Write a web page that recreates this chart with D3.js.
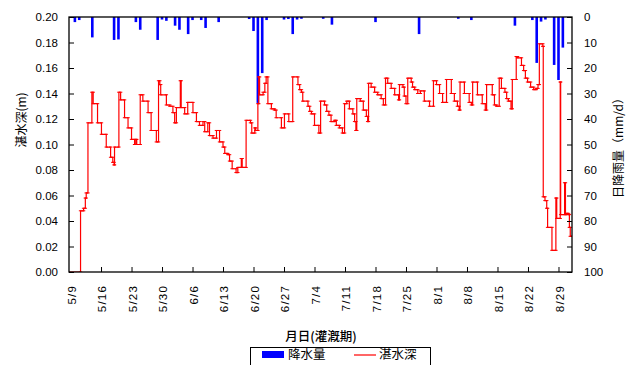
<!DOCTYPE html>
<html><head><meta charset="utf-8">
<script src="https://cdn.jsdelivr.net/npm/d3@7"></script>
<style>
body{margin:0;background:#fff;}
svg text{font-family:"Liberation Sans",Arial,"Noto Sans CJK JP",sans-serif;fill:#000;}
.cjk{font-family:"Noto Sans CJK JP","Liberation Sans",sans-serif;}
</style></head><body>
<svg id="c" width="640" height="365"></svg>
<script>
// ---- data (day index: 0 = 5/9) ----
const tickLabels = ["5/9","5/16","5/23","5/30","6/6","6/13","6/20","6/27","7/4","7/11","7/18","7/25","8/1","8/8","8/15","8/22","8/29"];
const tickDays   = [0,7,14,21,28,35,42,49,56,63,70,77,84,91,98,105,112];
const depthTicks = [0,0.02,0.04,0.06,0.08,0.10,0.12,0.14,0.16,0.18,0.20];
const rainTicks  = [0,10,20,30,40,50,60,70,80,90,100];

const rainDay = [1,2,5,10,11,15,16,20,21,22,24,25,27,28,30,31,34,41,42,43,44,45,49,50,51,52,53,58,60,70,80,89,92,102,106,107,108,109,111,112,113];
const rainMm  = [2,1.2,8,9,8.8,2,5,9,1,1.5,3.4,5,6.7,1.2,1.2,4.3,2,0.8,5.5,33.7,22,1.2,1,0.8,6.7,1,0.7,0.7,3,2,6.7,0.7,1.2,3.4,1.2,18,1.8,1,18.8,24.7,12];

const depthDay = [-0.35,2.3,3.0,3.4,3.6,4.0,4.9,5.2,6.2,7.1,8.2,9.2,9.7,10.0,10.1,11.1,11.5,12.4,13.2,14.0,14.7,15.0,15.2,16.0,16.6,17.8,18.5,19.7,20.2,20.5,20.7,22.0,22.8,23.5,23.9,24.3,25.2,25.4,26.2,26.9,28.1,28.9,29.6,30.4,30.8,31.5,31.9,32.7,33.5,34.2,35.0,35.4,36.1,36.5,37.1,38.0,38.4,39.2,39.4,40.3,41.3,41.6,42.3,42.5,43.0,43.2,43.4,44.2,44.6,44.9,45.3,46.1,46.8,47.2,48.4,49.1,50.1,51.0,52.2,52.6,53.0,53.3,54.5,54.9,55.3,56.0,57.0,57.4,58.3,58.8,59.3,59.8,60.6,61.0,61.7,62.4,62.9,63.4,64.0,64.8,65.2,65.5,65.7,66.5,67.2,67.9,68.2,68.4,69.0,69.8,70.5,71.3,71.8,72.3,72.8,73.6,74.4,75.3,75.5,76.3,76.6,77.0,77.4,78.2,78.5,79.0,79.7,80.3,81.2,82.4,83.3,84.0,84.7,85.4,86.3,87.4,88.1,88.8,89.2,89.4,90.4,91.5,92.0,92.3,93.4,94.5,95.2,95.5,96.8,97.3,97.8,98.4,98.9,99.7,100.1,100.5,101.1,101.4,102.3,102.6,103.5,104.0,104.4,104.9,105.6,106.3,106.9,107.3,107.6,108.4,108.5,108.9,109.3,109.5,110.5,111.4,111.6,112.4,112.5,113.4,113.6,113.8,114.3,114.5,114.7,115.1];
const depthM = [0.000,0.048,0.050,0.058,0.062,0.117,0.141,0.132,0.117,0.108,0.098,0.090,0.086,0.084,0.098,0.141,0.135,0.121,0.113,0.104,0.100,0.104,0.100,0.139,0.134,0.125,0.111,0.102,0.150,0.147,0.139,0.131,0.130,0.125,0.117,0.129,0.150,0.129,0.124,0.133,0.125,0.118,0.115,0.118,0.110,0.117,0.107,0.105,0.111,0.102,0.098,0.093,0.092,0.087,0.081,0.078,0.082,0.089,0.082,0.119,0.117,0.109,0.113,0.111,0.132,0.153,0.139,0.141,0.148,0.153,0.132,0.128,0.127,0.121,0.113,0.124,0.118,0.153,0.147,0.143,0.141,0.134,0.130,0.126,0.124,0.115,0.109,0.134,0.131,0.126,0.123,0.118,0.119,0.115,0.113,0.109,0.132,0.134,0.128,0.124,0.118,0.111,0.136,0.134,0.127,0.122,0.118,0.148,0.145,0.141,0.139,0.136,0.131,0.152,0.148,0.144,0.139,0.135,0.147,0.145,0.138,0.132,0.152,0.149,0.145,0.143,0.140,0.142,0.134,0.130,0.150,0.147,0.140,0.133,0.151,0.140,0.134,0.130,0.127,0.149,0.140,0.133,0.131,0.149,0.139,0.132,0.127,0.147,0.139,0.131,0.130,0.152,0.144,0.141,0.136,0.134,0.128,0.151,0.169,0.168,0.162,0.158,0.152,0.149,0.145,0.143,0.144,0.147,0.179,0.177,0.059,0.056,0.050,0.035,0.017,0.058,0.042,0.149,0.045,0.070,0.045,0.046,0.045,0.035,0.028,0.028];

// ---- layout ----
const L = 69, R = 572, T = 17, B = 272;
const svg = d3.select("#c");
const x = d3.scaleLinear().domain([-0.35, 115.1]).range([L, R]);
const y = d3.scaleLinear().domain([0, 0.20]).range([B, T]);
const yr = d3.scaleLinear().domain([0, 100]).range([T, B]);

// rain bars
svg.append("g").selectAll("rect").data(rainDay.map((d,i)=>({d, v:rainMm[i]}))).join("rect")
  .attr("x", d => x(d.d) - 1.3).attr("width", 2.6)
  .attr("y", yr(0)).attr("height", d => yr(d.v) - yr(0))
  .attr("fill", "#0000ff");

// depth line
const pts = depthDay.map((d,i)=>[d, depthM[i]]);
const line = d3.line().x(d=>x(d[0])).y(d=>y(d[1])).curve(d3.curveStepAfter);
svg.append("clipPath").attr("id","pc").append("rect").attr("x",L).attr("y",T-1).attr("width",R-L).attr("height",B-T+1);
const lg = svg.append("g").attr("clip-path","url(#pc)");
lg.append("path").attr("d", line(pts)).attr("fill","none").attr("stroke","#ff0000").attr("stroke-width",1.2);
// dash markers at both ends of each step (previous and new level)
const mk = [];
pts.forEach((p,i)=>{ if(i>0){ mk.push([p[0], pts[i-1][1]]); mk.push(p); } });
lg.selectAll("line.m").data(mk).join("line").attr("class","m")
  .attr("x1", d=>x(d[0])-1.7).attr("x2", d=>x(d[0])+1.7)
  .attr("y1", d=>y(d[1])).attr("y2", d=>y(d[1]))
  .attr("stroke","#ff0000").attr("stroke-width",1);

// axes
const gl = svg.append("g").attr("transform",`translate(${L},0)`)
  .call(d3.axisRight(y).tickValues(depthTicks).tickSize(5).tickFormat(()=>""));
const gr = svg.append("g").attr("transform",`translate(${R},0)`)
  .call(d3.axisLeft(yr).tickValues(rainTicks).tickSize(5).tickFormat(()=>""));
const gb = svg.append("g").attr("transform",`translate(0,${B})`)
  .call(d3.axisTop(x).tickValues(tickDays.slice(1)).tickSize(5).tickFormat(()=>""));
[gl,gr,gb].forEach(g=>{ g.select(".domain").remove(); g.selectAll("line").attr("stroke","#000"); });

// frame
svg.append("rect").attr("x",L).attr("y",T).attr("width",R-L).attr("height",B-T)
  .attr("fill","none").attr("stroke","#000").attr("stroke-width",1.3);

// tick labels
svg.append("g").selectAll("text").data(depthTicks).join("text")
  .attr("x", L-11).attr("y", d=>y(d)).attr("dy","0.35em").attr("text-anchor","end")
  .attr("font-size",11.5).text(d3.format(".2f"));
svg.append("g").selectAll("text").data(rainTicks).join("text")
  .attr("x", R+12).attr("y", d=>yr(d)).attr("dy","0.35em").attr("text-anchor","start")
  .attr("font-size",11.5).text(d=>d);
svg.append("g").selectAll("text").data(tickDays).join("text")
  .attr("transform", (d)=>`translate(${x(d)+1},${B+13}) rotate(-90)`)
  .attr("text-anchor","end").attr("dy","0.35em").attr("font-size",11.5).attr("letter-spacing",1.2)
  .text((d,i)=>tickLabels[i]);

// axis titles
svg.append("text").attr("class","cjk").attr("transform","translate(22,120) rotate(-90)")
  .attr("text-anchor","middle").attr("dy","0.35em").attr("font-size",12).text("湛水深(m)");
svg.append("text").attr("class","cjk").attr("transform","translate(619,145) rotate(-90)")
  .attr("text-anchor","middle").attr("dy","0.35em").attr("font-size",12).text("日降雨量（mm/d）");
svg.append("text").attr("class","cjk").attr("x",321).attr("y",337).attr("dy","0.35em")
  .attr("text-anchor","middle").attr("font-size",12.5).attr("font-weight",500).text("月日(灌漑期)");

// legend
const lgd = svg.append("g");
lgd.append("rect").attr("x",250.5).attr("y",347.5).attr("width",180).attr("height",24)
  .attr("fill","#fff").attr("stroke","#000").attr("stroke-width",1);
lgd.append("rect").attr("x",262).attr("y",351).attr("width",22).attr("height",7).attr("fill","#0000ff");
lgd.append("text").attr("class","cjk").attr("x",288).attr("y",355).attr("dy","0.35em").attr("font-size",12.5).text("降水量");
lgd.append("line").attr("x1",354).attr("x2",376).attr("y1",355).attr("y2",355).attr("stroke","#ff0000").attr("stroke-width",1.2);
lgd.append("text").attr("class","cjk").attr("x",379).attr("y",355).attr("dy","0.35em").attr("font-size",12.5).text("湛水深");
</script></body></html>
